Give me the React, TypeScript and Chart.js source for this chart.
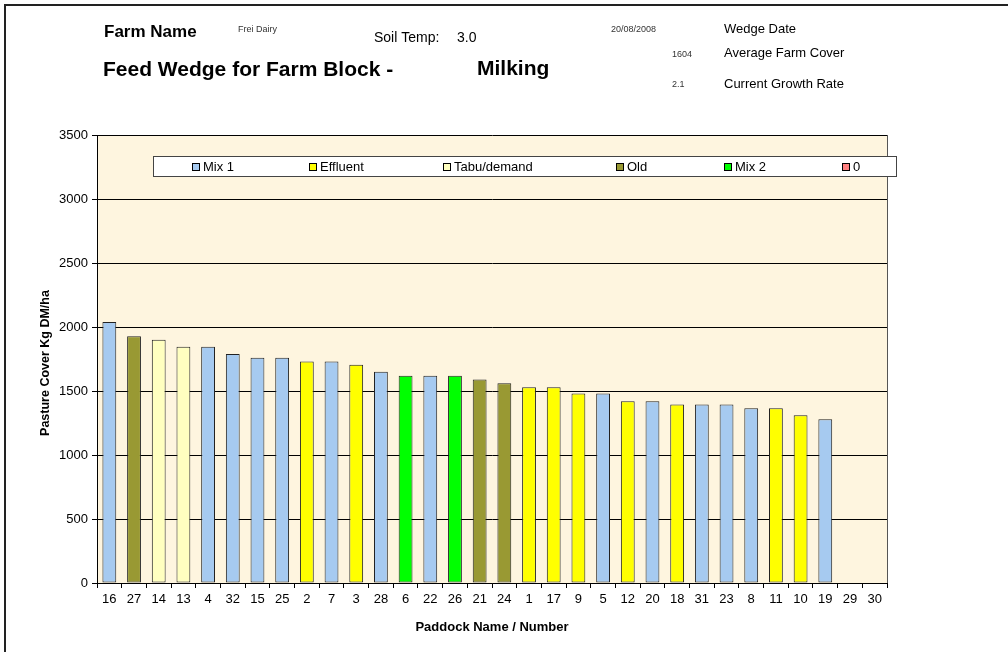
import React, { useEffect, useRef } from "react";
import { Chart, registerables } from "chart.js";

Chart.register(...registerables);

const paddocks = ["16","27","14","13","4","32","15","25","2","7","3","28","6","22","26","21","24","1","17","9","5","12","20","18","31","23","8","11","10","19","29","30"];
const covers = [2040,1927,1900,1845,1845,1790,1760,1760,1730,1730,1705,1650,1620,1620,1620,1590,1560,1530,1530,1480,1480,1420,1420,1395,1395,1395,1365,1365,1310,1280,0,0];
const paddockGroups = ["Mix 1","Old","Tabu/demand","Tabu/demand","Mix 1","Mix 1","Mix 1","Mix 1","Effluent","Mix 1","Effluent","Mix 1","Mix 2","Mix 1","Mix 2","Old","Old","Effluent","Effluent","Effluent","Mix 1","Effluent","Mix 1","Effluent","Mix 1","Mix 1","Mix 1","Effluent","Effluent","Mix 1","0","0"];
const groupNames = ["Mix 1","Effluent","Tabu/demand","Old","Mix 2","0"];
const groupColors = ["#A6CAF0","#FFFF00","#FFFFC0","#999933","#00FF00","#FF8080"];
const yTicks = [0,500,1000,1500,2000,2500,3000,3500];

const FONT = "'Liberation Sans', Arial, sans-serif";

const decorPlugin = {
  id: "decor",
  beforeDraw(chart: any) {
    const { ctx, chartArea } = chart;
    ctx.save();
    ctx.fillStyle = "#ffffff";
    ctx.fillRect(0, 0, chart.width, chart.height);
    ctx.strokeStyle = "#222";
    ctx.lineWidth = 2;
    ctx.beginPath();
    ctx.moveTo(5, chart.height + 5);
    ctx.lineTo(5, 5);
    ctx.lineTo(chart.width + 5, 5);
    ctx.stroke();
    ctx.fillStyle = "#FEF5DF";
    ctx.fillRect(chartArea.left, chartArea.top, chartArea.right - chartArea.left, chartArea.bottom - chartArea.top);
    ctx.restore();
  },
  afterDraw(chart: any) {
    const { ctx, chartArea } = chart;
    ctx.save();
    ctx.strokeStyle = "#555";
    ctx.lineWidth = 1;
    ctx.beginPath();
    ctx.moveTo(Math.round(chartArea.right) + 0.5, chartArea.top);
    ctx.lineTo(Math.round(chartArea.right) + 0.5, chartArea.bottom);
    ctx.stroke();

    ctx.textBaseline = "alphabetic";
    ctx.textAlign = "left";
    const txt = (s: string, x: number, y: number, f: string, c = "#000") => {
      ctx.font = f;
      ctx.fillStyle = c;
      ctx.fillText(s, x, y);
    };
    txt("Farm Name", 104, 37, `bold 17px ${FONT}`);
    txt("Frei Dairy", 238, 32, `9px ${FONT}`, "#333");
    txt("Soil Temp:", 374, 42, `14px ${FONT}`);
    txt("3.0", 457, 42, `14px ${FONT}`);
    txt("Feed Wedge for Farm Block -", 103, 76, `bold 21px ${FONT}`);
    txt("Milking", 477, 75, `bold 21px ${FONT}`);
    txt("20/08/2008", 611, 32, `9px ${FONT}`, "#333");
    txt("Wedge Date", 724, 33, `13px ${FONT}`);
    txt("1604", 672, 57, `9px ${FONT}`, "#333");
    txt("Average Farm Cover", 724, 57, `13px ${FONT}`);
    txt("2.1", 672, 87, `9px ${FONT}`, "#333");
    txt("Current Growth Rate", 724, 88, `13px ${FONT}`);

    ctx.font = `bold 13px ${FONT}`;
    ctx.textAlign = "center";
    ctx.fillStyle = "#000";
    ctx.fillText("Paddock Name / Number", (chartArea.left + chartArea.right) / 2, 631);
    ctx.save();
    ctx.translate(49, (chartArea.top + chartArea.bottom) / 2 + 4);
    ctx.rotate(-Math.PI / 2);
    ctx.font = `bold 12.5px ${FONT}`;
    ctx.fillText("Pasture Cover Kg DM/ha", 0, 0);
    ctx.restore();

    const lx = 153.5, ly = 156.5, lw = 743, lh = 20;
    ctx.fillStyle = "#ffffff";
    ctx.fillRect(lx, ly, lw, lh);
    ctx.strokeStyle = "#444";
    ctx.lineWidth = 1;
    ctx.strokeRect(lx, ly, lw, lh);
    const itemX = [192, 309, 443, 616, 724, 842];
    ctx.font = `13px ${FONT}`;
    ctx.textAlign = "left";
    ctx.textBaseline = "middle";
    groupNames.forEach((name, i) => {
      const x = itemX[i];
      ctx.fillStyle = groupColors[i];
      ctx.fillRect(x + 0.5, 163.5, 7, 7);
      ctx.strokeStyle = "#000";
      ctx.strokeRect(x + 0.5, 163.5, 7, 7);
      ctx.fillStyle = "#000";
      ctx.fillText(name, x + 11, 167.5);
    });
    ctx.restore();
  },
};

export default function App() {
  const ref = useRef<HTMLCanvasElement>(null);
  useEffect(() => {
    document.body.style.margin = "0";
    const datasets = groupNames.map((g, gi) => ({
      label: g,
      data: covers.map((v, i) => (paddockGroups[i] === g && v > 0 ? v : null)),
      backgroundColor: groupColors[gi],
      borderColor: "#222",
      borderWidth: 1,
      borderSkipped: false as any,
      barPercentage: 0.56,
      categoryPercentage: 1,
    }));
    const chart = new Chart(ref.current!, {
      type: "bar",
      data: { labels: paddocks, datasets },
      plugins: [decorPlugin],
      options: {
        responsive: false,
        animation: false,
        maintainAspectRatio: false,
        layout: { padding: { top: 135, right: 121, left: 0, bottom: 0 } },
        plugins: { legend: { display: false }, tooltip: { enabled: false } },
        scales: {
          x: {
            stacked: true,
            grid: { display: true, drawOnChartArea: false, drawTicks: true, tickLength: 5, color: "#000", offset: true },
            border: { color: "#000", width: 1 },
            ticks: { color: "#000", font: { family: FONT, size: 13 }, padding: 4, maxRotation: 0, autoSkip: false },
            afterFit: (s: any) => { s.height = 69; },
          },
          y: {
            stacked: true,
            min: 0,
            max: 3500,
            afterBuildTicks: (s: any) => { s.ticks = yTicks.map((v) => ({ value: v })); },
            grid: { color: "#000", tickLength: 5, drawTicks: true },
            border: { color: "#000", width: 1 },
            ticks: { color: "#000", font: { family: FONT, size: 13 }, padding: 4, callback: (v: any) => String(v) },
            afterFit: (s: any) => { s.width = 97; },
          },
        },
      },
    });
    return () => chart.destroy();
  }, []);
  return <canvas ref={ref} width={1008} height={652} style={{ display: "block" }} />;
}
